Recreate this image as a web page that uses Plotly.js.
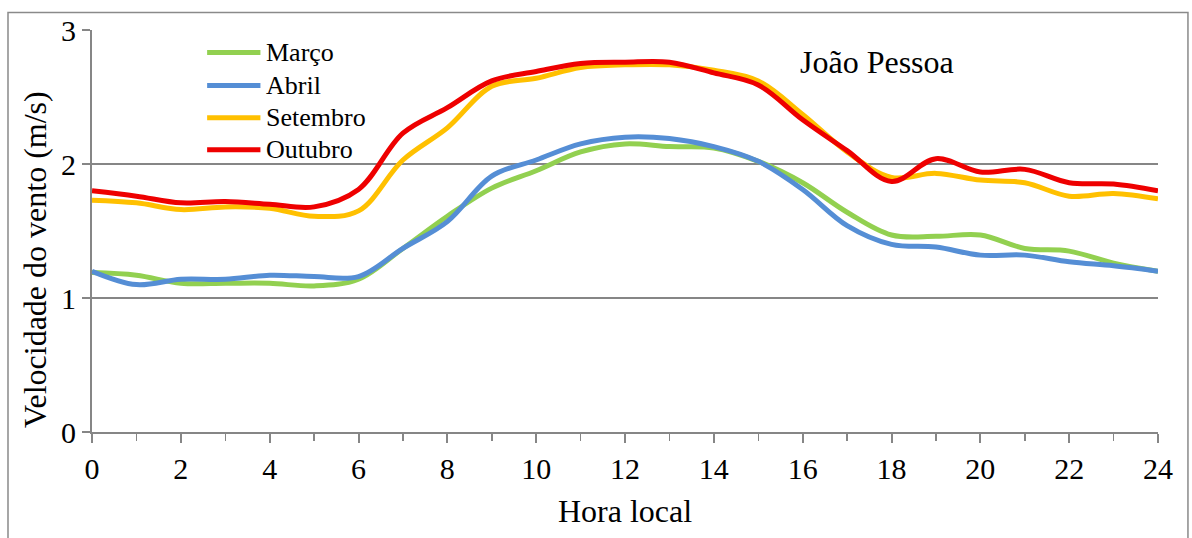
<!DOCTYPE html>
<html>
<head>
<meta charset="utf-8">
<script src="https://cdn.plot.ly/plotly-3.0.1.min.js"></script>
<style>
  html, body { margin: 0; padding: 0; background: #ffffff; }
  #chart { width: 1192px; height: 538px; }
</style>
</head>
<body>
<div id="chart"></div>
<script>
// Hours (local time)
const hours = [0,1,2,3,4,5,6,7,8,9,10,11,12,13,14,15,16,17,18,19,20,21,22,23,24];

// Wind speed (m/s) per month
const marco    = [1.19,1.17,1.11,1.11,1.11,1.09,1.14,1.37,1.61,1.82,1.95,2.09,2.15,2.13,2.12,2.02,1.86,1.64,1.47,1.46,1.47,1.37,1.35,1.26,1.20];
const abril    = [1.20,1.10,1.14,1.14,1.17,1.16,1.16,1.37,1.57,1.91,2.03,2.15,2.20,2.19,2.13,2.02,1.81,1.54,1.40,1.38,1.32,1.32,1.27,1.24,1.20];
const setembro = [1.73,1.71,1.66,1.68,1.67,1.61,1.65,2.03,2.27,2.58,2.64,2.72,2.74,2.74,2.70,2.62,2.37,2.09,1.90,1.93,1.88,1.86,1.76,1.78,1.74];
const outubro  = [1.80,1.76,1.71,1.72,1.70,1.68,1.81,2.23,2.42,2.62,2.69,2.75,2.76,2.76,2.68,2.59,2.33,2.10,1.87,2.04,1.94,1.96,1.86,1.85,1.80];

const seriesNames  = ["Março", "Abril", "Setembro", "Outubro"];
const seriesValues = [marco, abril, setembro, outubro];
const seriesColors = ["#92D050", "#558ED5", "#FFC000", "#EE0000"];

const xTickVals = [0,2,4,6,8,10,12,14,16,18,20,22,24];
const yTickVals = [0,1,2,3];
const xTitle = "Hora local";
const yTitle = "Velocidade do vento (m/s)";
const placeLabel = "João Pessoa";

const FONT = "Liberation Serif, Times New Roman, serif";
const GRID = "#868686";

const traces = seriesNames.map((name, i) => ({
  type: "scatter",
  mode: "lines",
  name: name,
  x: hours,
  y: seriesValues[i],
  line: { color: seriesColors[i], width: 5, shape: "spline", smoothing: 1 },
  hoverinfo: "x+y+name",
  showlegend: false
}));

// Legend drawn in the upper-left corner of the plot (line sample + label)
const legendX0 = 0.108, legendX1 = 0.158, legendTextX = 0.161;
const legendRowsY = [0.944, 0.862, 0.782, 0.702];
const legendShapes = seriesNames.map((name, i) => ({
  type: "line", xref: "paper", yref: "paper",
  x0: legendX0, x1: legendX1, y0: legendRowsY[i], y1: legendRowsY[i],
  line: { color: seriesColors[i], width: 5 }
}));
const legendLabels = seriesNames.map((name, i) => ({
  text: name, xref: "paper", yref: "paper",
  x: legendTextX, y: legendRowsY[i], xanchor: "left", yanchor: "middle",
  showarrow: false, font: { family: FONT, size: 26, color: "#000000" }
}));

const layout = {
  width: 1192,
  height: 538,
  margin: { l: 92, r: 34, t: 30, b: 106, pad: 0 },
  paper_bgcolor: "#ffffff",
  plot_bgcolor: "#ffffff",
  font: { family: FONT, color: "#000000" },
  showlegend: false,
  xaxis: {
    range: [0, 24],
    tickmode: "array",
    tickvals: xTickVals,
    ticktext: xTickVals.map(String),
    showgrid: false,
    zeroline: false,
    showline: true,
    linecolor: GRID,
    linewidth: 2,
    ticks: "outside",
    ticklen: 9,
    tickwidth: 2,
    tickcolor: GRID,
    minor: { dtick: 1, tick0: 0, ticks: "outside", ticklen: 7, tickwidth: 1.5, tickcolor: GRID, showgrid: false },
    tickfont: { family: FONT, size: 30, color: "#000000" },
    ticklabelstandoff: 0,
    title: { text: xTitle, font: { family: FONT, size: 32, color: "#000000" }, standoff: 16 }
  },
  xaxis2: {
    overlaying: "x",
    matches: "x",
    anchor: "y",
    range: [0, 24],
    tickmode: "array",
    tickvals: xTickVals,
    showticklabels: false,
    showgrid: false,
    zeroline: false,
    showline: false,
    ticks: "inside",
    ticklen: 6,
    tickwidth: 2,
    tickcolor: GRID,
    minor: { dtick: 1, tick0: 0, ticks: "inside", ticklen: 5, tickwidth: 1.5, tickcolor: GRID, showgrid: false },
    side: "bottom"
  },
  yaxis: {
    range: [0, 3],
    tickmode: "array",
    tickvals: yTickVals,
    ticktext: yTickVals.map(String),
    showgrid: true,
    gridcolor: GRID,
    gridwidth: 2,
    zeroline: false,
    showline: true,
    linecolor: GRID,
    linewidth: 2,
    ticks: "outside",
    ticklen: 8,
    tickwidth: 2,
    tickcolor: GRID,
    tickfont: { family: FONT, size: 30, color: "#000000" }
  },
  annotations: [
    {
      text: placeLabel,
      xref: "paper", yref: "paper",
      x: 0.736, y: 0.921,
      xanchor: "center", yanchor: "middle",
      showarrow: false,
      font: { family: FONT, size: 32, color: "#000000" }
    },
    {
      text: yTitle,
      xref: "paper", yref: "paper",
      x: -0.0535, y: 0.43,
      xanchor: "center", yanchor: "middle",
      textangle: -90,
      showarrow: false,
      font: { family: FONT, size: 32, color: "#000000" }
    }
  ].concat(legendLabels),
  shapes: [{
    type: "rect",
    xref: "paper", yref: "paper",
    x0: -0.0788, x1: 1.0281, y0: -0.32, y1: 1.0433,
    line: { color: "#8a8a8a", width: 1.5 },
    fillcolor: "rgba(0,0,0,0)",
    layer: "below"
  }].concat(legendShapes)
};

Plotly.newPlot("chart", traces, layout, { displayModeBar: false, responsive: false, staticPlot: true });
</script>
</body>
</html>
